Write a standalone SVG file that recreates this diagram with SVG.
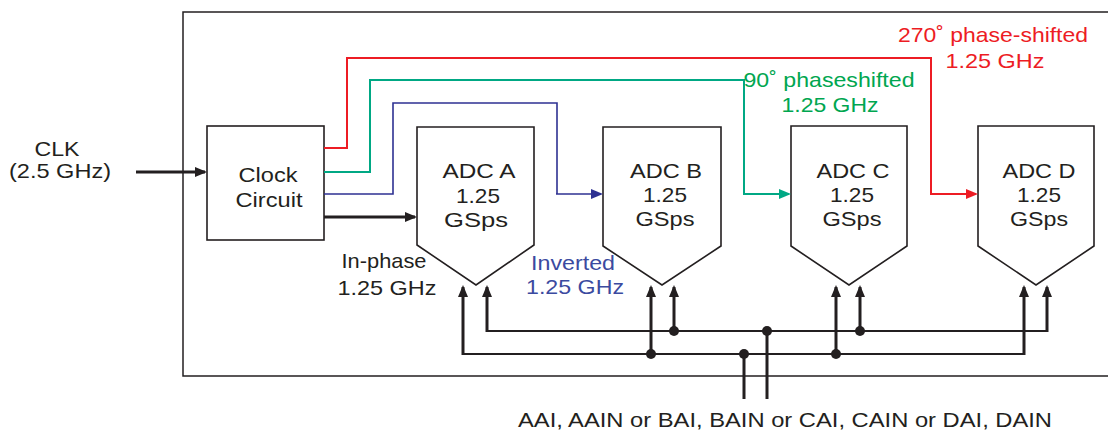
<svg xmlns="http://www.w3.org/2000/svg" width="1108" height="431" viewBox="0 0 1108 431">
<style>
text{font-family:"Liberation Sans",Arial,sans-serif;font-size:21px;fill:#231f20;text-anchor:middle}
.node{fill:#fff;stroke:#231f20;stroke-width:1.6}
.frame{fill:none;stroke:#231f20;stroke-width:1.5}
.w{fill:none;stroke-linejoin:miter;stroke-linecap:butt}
.blk{stroke:#231f20;stroke-width:3}
.bus{stroke:#231f20;stroke-width:2}
.red{stroke:#ed1c24;stroke-width:2}
.grn{stroke:#00a884;stroke-width:2}
.blu{stroke:#2e3192;stroke-width:1.6}
.dot{fill:#231f20}
.tr{fill:#ed1c24}.tg{fill:#00a650}.tb{fill:#3b4aa0}
</style>
<defs>
<marker id="ak" markerUnits="userSpaceOnUse" markerWidth="12" markerHeight="10" refX="10" refY="5" orient="auto"><path d="M0,0L12,5L0,10z" fill="#231f20"/></marker>
<marker id="ar" markerUnits="userSpaceOnUse" markerWidth="12" markerHeight="10" refX="10" refY="5" orient="auto"><path d="M0,0L12,5L0,10z" fill="#ed1c24"/></marker>
<marker id="ag" markerUnits="userSpaceOnUse" markerWidth="12" markerHeight="10" refX="10" refY="5" orient="auto"><path d="M0,0L12,5L0,10z" fill="#00a884"/></marker>
<marker id="ab" markerUnits="userSpaceOnUse" markerWidth="12" markerHeight="10" refX="10" refY="5" orient="auto"><path d="M0,0L12,5L0,10z" fill="#2e3192"/></marker>
</defs>
<rect width="1108" height="431" fill="#fff"/>
<path class="frame" d="M1110,12H183V376H1110"/>

<g id="clock">
<rect class="node" x="207" y="126" width="117" height="114" stroke-width="2"/>
<text x="268" y="182" textLength="59" lengthAdjust="spacingAndGlyphs">Clock</text>
<text x="269" y="207" textLength="67" lengthAdjust="spacingAndGlyphs">Circuit</text>
</g>

<g id="adcA">
<polygon class="node" points="417,127 534,127 534,245 476,285 417,245"/>
<text x="479" y="178" textLength="73" lengthAdjust="spacingAndGlyphs">ADC A</text>
<text x="478" y="203" textLength="44" lengthAdjust="spacingAndGlyphs">1.25</text>
<text x="476" y="227" textLength="64" lengthAdjust="spacingAndGlyphs">GSps</text>
</g>
<g id="adcB">
<polygon class="node" points="603,127 721,127 721,246 662,285 603,246"/>
<text x="666" y="178" textLength="72" lengthAdjust="spacingAndGlyphs">ADC B</text>
<text x="665" y="202" textLength="44" lengthAdjust="spacingAndGlyphs">1.25</text>
<text x="665" y="226" textLength="59" lengthAdjust="spacingAndGlyphs">GSps</text>
</g>
<g id="adcC">
<polygon class="node" points="791,126 907,126 907,246 849,285 791,246"/>
<text x="853" y="178" textLength="73" lengthAdjust="spacingAndGlyphs">ADC C</text>
<text x="852" y="202" textLength="44" lengthAdjust="spacingAndGlyphs">1.25</text>
<text x="852" y="226" textLength="59" lengthAdjust="spacingAndGlyphs">GSps</text>
</g>
<g id="adcD">
<polygon class="node" points="978,126 1094,126 1094,246 1036,285 978,246"/>
<text x="1039" y="178" textLength="73" lengthAdjust="spacingAndGlyphs">ADC D</text>
<text x="1039" y="202" textLength="44" lengthAdjust="spacingAndGlyphs">1.25</text>
<text x="1039" y="226" textLength="58" lengthAdjust="spacingAndGlyphs">GSps</text>
</g>

<g id="connectors">
<path class="w blk" d="M136,172H205" marker-end="url(#ak)"/>
<path class="w blk" d="M324,217H415" marker-end="url(#ak)"/>
<path class="w red" d="M324,148H347V58H931V194"/>
<path class="w red" stroke-width="3" d="M930,194H976" marker-end="url(#ar)"/>
<path class="w grn" d="M324,172H370V80H744V194"/>
<path class="w grn" stroke-width="3" d="M743,194H789" marker-end="url(#ag)"/>
<path class="w blu" d="M324,194H393V103H557V194"/>
<path class="w blu" stroke-width="3" d="M556,194H601" marker-end="url(#ab)"/>
<path class="w bus" d="M487,331H1047M463,354H1024"/>
<path class="w blk" d="M463,355V287" marker-end="url(#ak)"/>
<path class="w blk" d="M487,332V287" marker-end="url(#ak)"/>
<path class="w blk" d="M651,355V287" marker-end="url(#ak)"/>
<path class="w blk" d="M674,332V287" marker-end="url(#ak)"/>
<path class="w blk" d="M836,355V287" marker-end="url(#ak)"/>
<path class="w blk" d="M860,332V287" marker-end="url(#ak)"/>
<path class="w blk" d="M1024,355V287" marker-end="url(#ak)"/>
<path class="w blk" d="M1047,332V287" marker-end="url(#ak)"/>
<path class="w blk" d="M744,354V399M767,331V399"/>
<circle class="dot" cx="674" cy="331" r="5"/>
<circle class="dot" cx="767" cy="331" r="5"/>
<circle class="dot" cx="860" cy="331" r="5"/>
<circle class="dot" cx="651" cy="354" r="5"/>
<circle class="dot" cx="744" cy="354" r="5"/>
<circle class="dot" cx="836" cy="354" r="5"/>
</g>

<g id="labels">
<text x="57" y="156" textLength="45" lengthAdjust="spacingAndGlyphs">CLK</text>
<text x="60" y="178" textLength="102" lengthAdjust="spacingAndGlyphs">(2.5 GHz)</text>
<text x="384" y="268" textLength="85" lengthAdjust="spacingAndGlyphs">In-phase</text>
<text x="387" y="295" textLength="99" lengthAdjust="spacingAndGlyphs">1.25 GHz</text>
<text class="tb" x="573" y="270" textLength="84" lengthAdjust="spacingAndGlyphs">Inverted</text>
<text class="tb" x="575" y="294" textLength="98" lengthAdjust="spacingAndGlyphs">1.25 GHz</text>
<text class="tg" x="829" y="87" textLength="171" lengthAdjust="spacingAndGlyphs">90˚ phaseshifted</text>
<text class="tg" x="830" y="112" textLength="97" lengthAdjust="spacingAndGlyphs">1.25 GHz</text>
<text class="tr" x="993" y="42" textLength="190" lengthAdjust="spacingAndGlyphs">270˚ phase-shifted</text>
<text class="tr" x="995" y="68" textLength="99" lengthAdjust="spacingAndGlyphs">1.25 GHz</text>
<text x="785" y="427" font-size="20" textLength="534" lengthAdjust="spacingAndGlyphs">AAI, AAIN or BAI, BAIN or CAI, CAIN or DAI, DAIN</text>
</g>
</svg>
